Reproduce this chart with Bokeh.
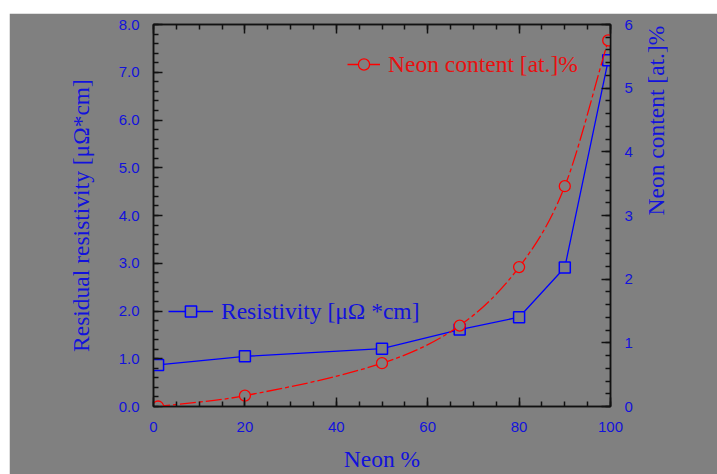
import math
import numpy as np
from bokeh.plotting import figure
from bokeh.models import (Range1d, LinearAxis, FixedTicker, PrintfTickFormatter,
                          Legend, LegendItem)
from bokeh.embed import file_html
from bokeh.resources import INLINE

# ---- data ----
neon_pct = [1, 20, 50, 67, 80, 90, 99.5]
resistivity = [0.87, 1.05, 1.21, 1.61, 1.87, 2.91, 7.25]
neon_content = [0.0, 0.17, 0.68, 1.27, 2.19, 3.46, 5.75]
x_ticks = [0, 20, 40, 60, 80, 100]
left_ticks = [0, 1, 2, 3, 4, 5, 6, 7, 8]
right_ticks = [0, 1, 2, 3, 4, 5, 6]

GRAY = "#808080"
BLUE = "#0000ff"
RED = "#ff0000"
TBLUE = "#1212dc"
TRED = "#e81010"
SERIF = "Liberation Serif"
SANS = "Liberation Sans"
LBL = "23.5px"

p = figure(width=708, height=461, x_range=Range1d(0, 100), y_range=Range1d(0, 8),
           output_backend="svg", toolbar_location=None,
           background_fill_color=GRAY, border_fill_color=GRAY,
           min_border_left=144, min_border_right=107, min_border_top=11,
           min_border_bottom=67)
p.margin = (13, 0, 0, 9)
p.extra_y_ranges = {"neon": Range1d(0, 6)}
p.xgrid.visible = False
p.ygrid.visible = False
p.outline_line_color = "#111111"
p.outline_line_width = 1.5


def style(ax, ticks, minor):
    ax.ticker = FixedTicker(ticks=ticks, minor_ticks=minor)
    ax.axis_line_color = "#111111"
    ax.axis_line_width = 1.5
    ax.major_tick_line_color = "#111111"
    ax.minor_tick_line_color = "#111111"
    ax.major_tick_line_width = 1.5
    ax.minor_tick_line_width = 1.5
    ax.major_tick_in = 9
    ax.major_tick_out = 0
    ax.minor_tick_in = 5
    ax.minor_tick_out = 0
    ax.major_label_text_font = SANS
    ax.major_label_text_font_size = "15px"
    ax.major_label_text_color = TBLUE
    ax.axis_label_text_font = SERIF
    ax.axis_label_text_font_size = LBL
    ax.axis_label_text_font_style = "normal"
    ax.axis_label_text_color = TBLUE


x_minor = list(np.arange(0, 101, 5))
l_minor = [round(v, 1) for v in np.arange(0, 8.01, 0.2)]
r_minor = [round(v, 1) for v in np.arange(0, 6.01, 0.2)]

xa = p.xaxis[0]
style(xa, x_ticks, x_minor)
xa.axis_label = "Neon %"
xa.major_label_standoff = 15
xa.axis_label_standoff = 11

ya = p.yaxis[0]
style(ya, left_ticks, l_minor)
ya.formatter = PrintfTickFormatter(format="%.1f")
ya.axis_label = "Residual resistivity [μΩ*cm]"
ya.major_label_standoff = 14
ya.axis_label_standoff = 22

ra = LinearAxis(y_range_name="neon")
style(ra, right_ticks, r_minor)
ra.axis_label = "Neon content [at.]%"
ra.major_label_standoff = 14
ra.axis_label_standoff = 20
ra.axis_label_orientation = math.pi / 2
p.add_layout(ra, "right")

ta = LinearAxis()
style(ta, x_ticks, x_minor)
ta.major_label_text_color = None
ta.major_label_standoff = 0
p.add_layout(ta, "above")

# ---- resistivity series (left axis) ----
b_line = p.line(neon_pct, resistivity, line_color=BLUE, line_width=1.3)
b_mark = p.scatter(neon_pct, resistivity, marker="square", size=11, line_color=BLUE,
                   line_width=1.5, fill_color=GRAY)

# ---- neon content series (right axis), smooth cubic Hermite curve ----
xs = neon_pct
ys = neon_content
n = len(xs)
m = []
for i in range(n):
    if i == 0:
        m.append((ys[1] - ys[0]) / (xs[1] - xs[0]))
    elif i == n - 1:
        m.append((ys[-1] - ys[-2]) / (xs[-1] - xs[-2]))
    else:
        m.append((ys[i + 1] - ys[i - 1]) / (xs[i + 1] - xs[i - 1]))
x0, y0, x1, y1, cx0, cy0, cx1, cy1 = [], [], [], [], [], [], [], []
for i in range(n - 1):
    dx = xs[i + 1] - xs[i]
    x0.append(xs[i]); y0.append(ys[i])
    x1.append(xs[i + 1]); y1.append(ys[i + 1])
    cx0.append(xs[i] + dx / 3); cy0.append(ys[i] + m[i] * dx / 3)
    cx1.append(xs[i + 1] - dx / 3); cy1.append(ys[i + 1] - m[i + 1] * dx / 3)
r_curve = p.bezier(x0=x0, y0=y0, x1=x1, y1=y1, cx0=cx0, cy0=cy0, cx1=cx1, cy1=cy1,
                   line_color=RED, line_width=1.3, line_dash="16 3 4 3",
                   line_dash_offset=4, y_range_name="neon")
r_mark = p.scatter(neon_pct, neon_content, marker="circle", size=11, line_color=RED,
                   line_width=1.3, fill_color=GRAY, y_range_name="neon")


def make_legend(label, rends, loc, gw, color):
    leg = Legend(items=[LegendItem(label=label, renderers=rends)], location=loc,
                 glyph_width=gw, glyph_height=28, label_height=28,
                 label_standoff=8, padding=0, margin=0, spacing=0,
                 border_line_color=None, background_fill_alpha=0,
                 label_text_font=SERIF, label_text_font_size=LBL,
                 label_text_color=color)
    return leg


p.add_layout(make_legend("Neon content [at.]%", [r_curve, r_mark], (194, 328), 33, TRED))
p.add_layout(make_legend("Resistivity [μΩ *cm]", [b_line, b_mark], (15, 81), 45, TBLUE))

open("out.html", "w").write(file_html(p, INLINE))
